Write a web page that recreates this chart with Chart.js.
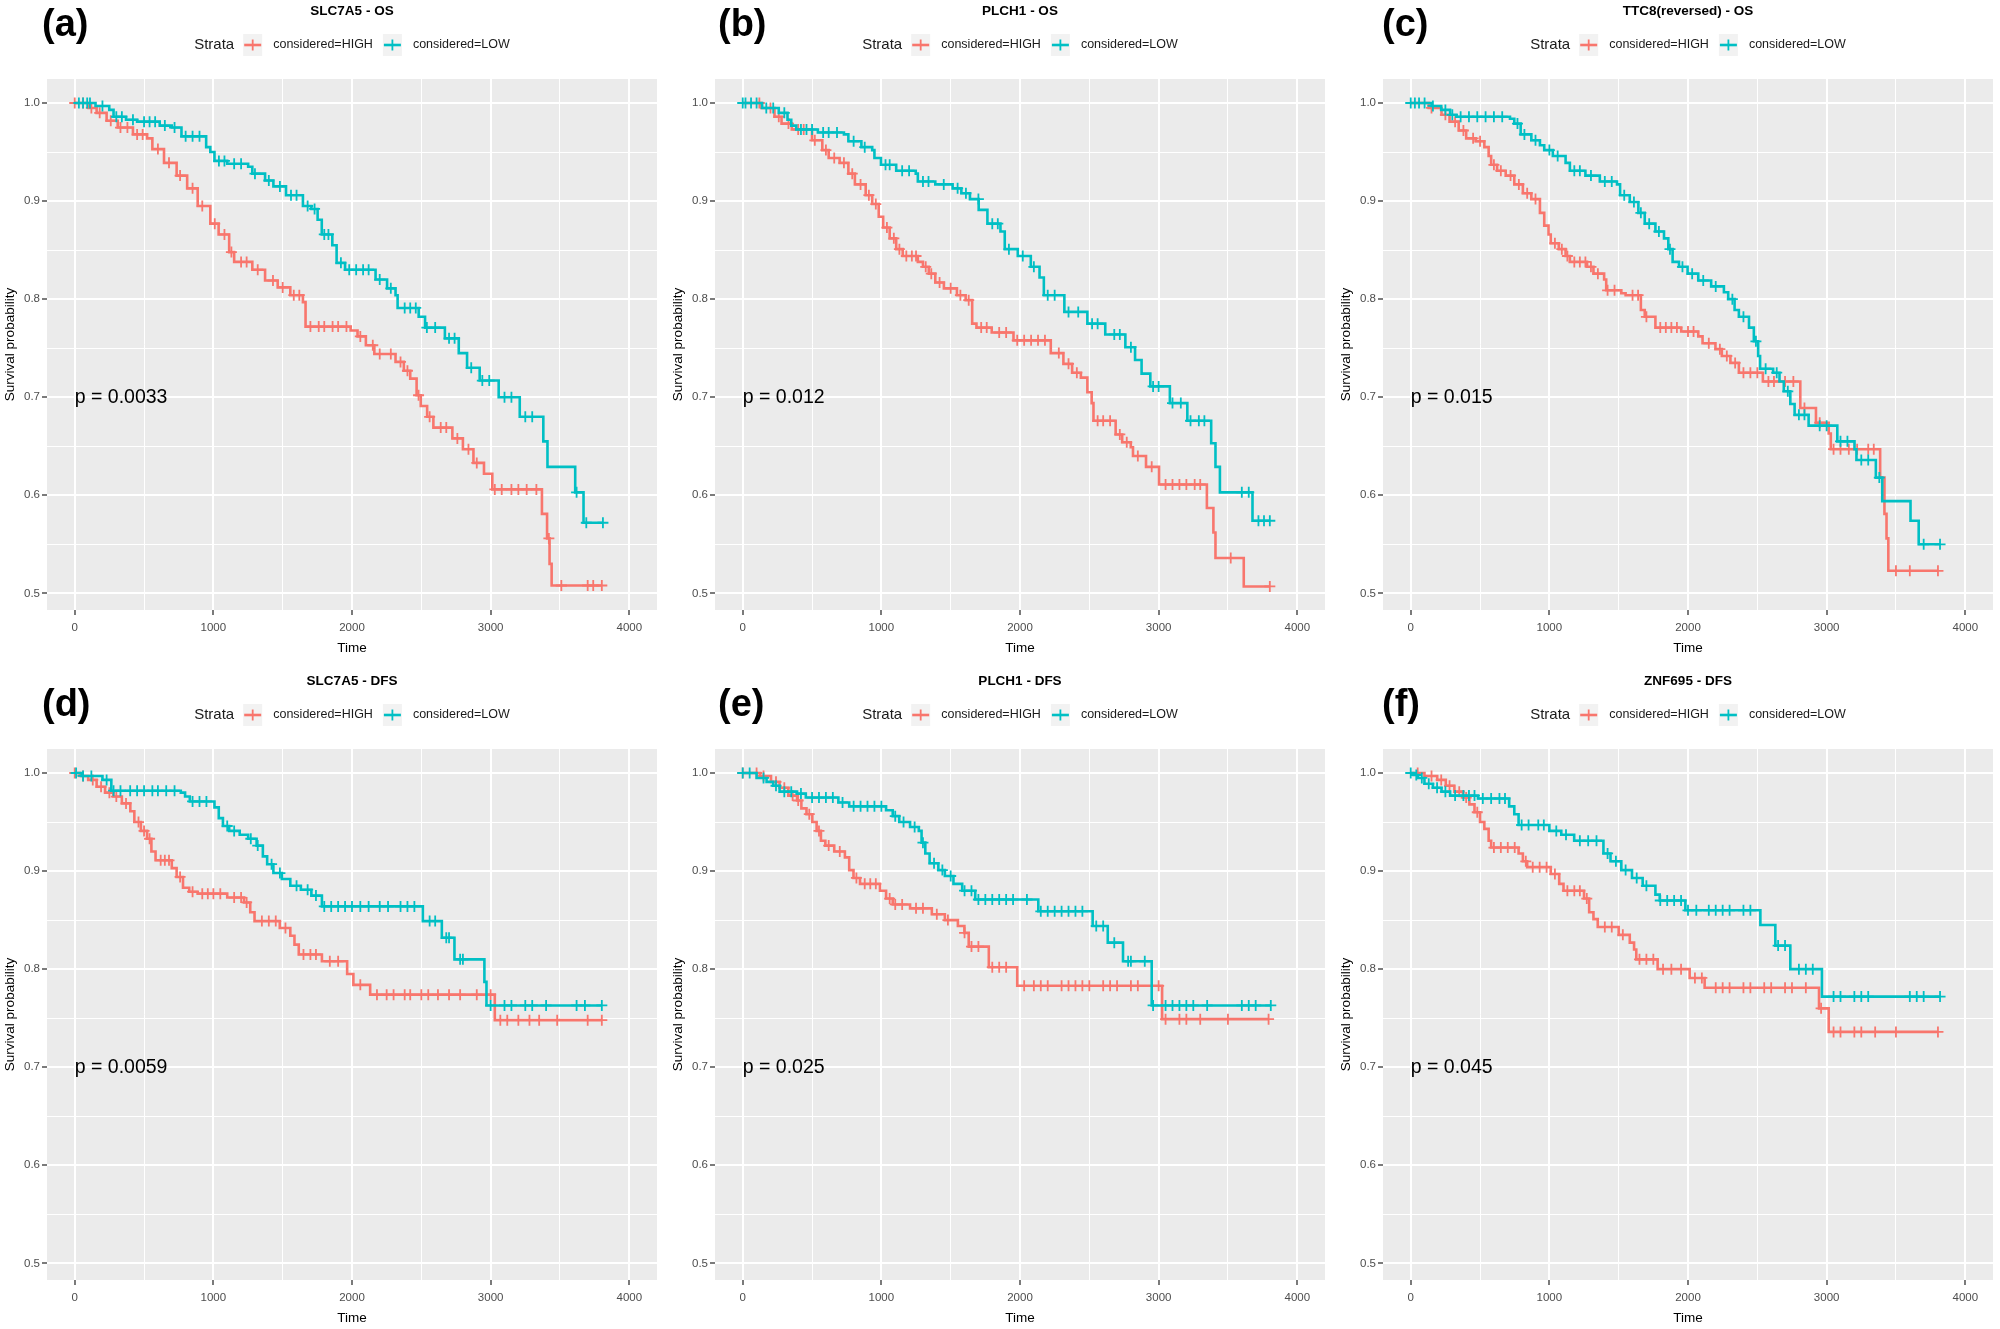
<!DOCTYPE html>
<html>
<head>
<meta charset="utf-8">
<script src="https://cdn.jsdelivr.net/npm/chart.js@4.4.1/dist/chart.umd.min.js"></script>
<style>
  body { margin: 0; background: #ffffff; }
  #wrap { position: relative; width: 2000px; height: 1329px; overflow: hidden; background: #ffffff; }
  #wrap canvas { position: absolute; }
</style>
</head>
<body>
<div id="wrap"></div>
<script>
// axis ticks (major ones get labels, the others are ggplot minor grid lines)
var xTickVals = [0, 500, 1000, 1500, 2000, 2500, 3000, 3500, 4000];
var yTickVals = [0.5, 0.55, 0.6, 0.65, 0.7, 0.75, 0.8, 0.85, 0.9, 0.95, 1.0];
var groups = ["considered=HIGH", "considered=LOW"];

// (a) SLC7A5 - OS
var aHighT = [0, 100, 158, 230, 310, 420, 522, 560, 644, 735, 811, 887, 978, 1038, 1114, 1150, 1281, 1373, 1464, 1555, 1646, 1665, 1990, 2040, 2100, 2161, 2314, 2374, 2420, 2466, 2496, 2542, 2587, 2724, 2800, 2876, 2952, 3012, 3370, 3407, 3425, 3440, 3802];
var aHighS = [1, 0.995, 0.99, 0.982, 0.975, 0.968, 0.964, 0.953, 0.939, 0.926, 0.913, 0.895, 0.877, 0.866, 0.848, 0.838, 0.830, 0.819, 0.812, 0.804, 0.797, 0.772, 0.768, 0.762, 0.753, 0.744, 0.736, 0.727, 0.719, 0.702, 0.691, 0.680, 0.669, 0.658, 0.647, 0.633, 0.622, 0.606, 0.581, 0.556, 0.530, 0.508, 0.508];
var aLowT = [0, 150, 249, 280, 370, 450, 613, 700, 770, 948, 978, 1008, 1100, 1251, 1281, 1373, 1433, 1524, 1646, 1707, 1752, 1782, 1858, 1889, 1950, 2170, 2253, 2314, 2329, 2481, 2527, 2670, 2770, 2830, 2921, 3058, 3210, 3380, 3410, 3610, 3670, 3810];
var aLowS = [1, 0.997, 0.993, 0.986, 0.983, 0.981, 0.977, 0.975, 0.966, 0.955, 0.95, 0.941, 0.938, 0.935, 0.928, 0.921, 0.915, 0.906, 0.895, 0.892, 0.881, 0.866, 0.855, 0.837, 0.830, 0.820, 0.811, 0.804, 0.791, 0.782, 0.771, 0.760, 0.745, 0.730, 0.717, 0.700, 0.680, 0.655, 0.629, 0.603, 0.572, 0.572];
var aHighCens = [0, 60, 120, 180, 260, 330, 380, 450, 490, 600, 680, 760, 850, 920, 1010, 1080, 1130, 1200, 1240, 1320, 1430, 1500, 1580, 1620, 1700, 1760, 1800, 1860, 1900, 1960, 2060, 2150, 2200, 2280, 2350, 2400, 2480, 2560, 2640, 2680, 2760, 2840, 2900, 3030, 3080, 3150, 3200, 3260, 3330, 3420, 3510, 3700, 3740, 3802];
var aLowCens = [30, 60, 90, 110, 200, 300, 340, 420, 500, 540, 580, 650, 720, 800, 850, 900, 1040, 1080, 1150, 1200, 1300, 1400, 1480, 1560, 1600, 1680, 1730, 1800, 1830, 1920, 1980, 2030, 2080, 2120, 2200, 2280, 2380, 2420, 2460, 2540, 2600, 2700, 2740, 2860, 2940, 2990, 3100, 3150, 3250, 3300, 3620, 3690, 3810];

// (b) PLCH1 - OS
var bHighT = [0, 135, 229, 280, 354, 500, 574, 620, 699, 762, 809, 887, 934, 981, 1013, 1060, 1107, 1154, 1263, 1300, 1342, 1389, 1451, 1545, 1608, 1655, 1686, 1796, 1953, 2222, 2313, 2376, 2439, 2486, 2517, 2530, 2690, 2737, 2799, 2815, 2909, 3003, 3348, 3395, 3410, 3614, 3802];
var bHighS = [1, 0.995, 0.986, 0.979, 0.973, 0.962, 0.952, 0.944, 0.939, 0.928, 0.917, 0.906, 0.897, 0.884, 0.873, 0.862, 0.851, 0.844, 0.838, 0.833, 0.826, 0.817, 0.811, 0.804, 0.799, 0.775, 0.771, 0.766, 0.758, 0.745, 0.734, 0.725, 0.720, 0.705, 0.694, 0.676, 0.662, 0.654, 0.649, 0.640, 0.629, 0.611, 0.587, 0.562, 0.536, 0.507, 0.507];
var bLowT = [0, 140, 260, 323, 350, 386, 542, 730, 762, 856, 934, 950, 997, 1107, 1248, 1263, 1389, 1514, 1577, 1639, 1702, 1765, 1859, 1890, 1984, 2078, 2141, 2172, 2320, 2486, 2615, 2760, 2830, 2877, 2940, 3081, 3207, 3379, 3410, 3442, 3677, 3802];
var bLowS = [1, 0.995, 0.99, 0.983, 0.977, 0.973, 0.970, 0.968, 0.961, 0.955, 0.952, 0.944, 0.937, 0.931, 0.928, 0.920, 0.917, 0.913, 0.908, 0.902, 0.891, 0.877, 0.869, 0.851, 0.844, 0.833, 0.822, 0.804, 0.787, 0.775, 0.764, 0.751, 0.738, 0.724, 0.711, 0.694, 0.676, 0.653, 0.629, 0.603, 0.574, 0.574];
var bHighCens = [120, 200, 260, 330, 400, 440, 520, 600, 660, 730, 790, 850, 910, 960, 1040, 1090, 1130, 1180, 1220, 1250, 1320, 1360, 1420, 1500, 1570, 1630, 1720, 1760, 1850, 1900, 1980, 2030, 2080, 2130, 2180, 2280, 2350, 2410, 2560, 2600, 2650, 2720, 2770, 2850, 2950, 3050, 3100, 3150, 3200, 3260, 3300, 3520, 3802];
var bLowCens = [0, 20, 60, 100, 170, 220, 300, 420, 460, 500, 580, 620, 680, 800, 880, 1030, 1060, 1150, 1200, 1300, 1340, 1450, 1550, 1610, 1700, 1800, 1840, 1920, 2020, 2100, 2200, 2250, 2350, 2420, 2520, 2560, 2680, 2720, 2800, 2960, 3000, 3100, 3160, 3230, 3290, 3330, 3600, 3650, 3720, 3760, 3802];

// (c) TTC8(reversed) - OS
var cHighT = [0, 130, 222, 280, 346, 400, 469, 531, 562, 580, 623, 685, 747, 809, 870, 932, 963, 994, 1010, 1068, 1117, 1148, 1272, 1318, 1395, 1410, 1519, 1550, 1660, 1688, 1765, 1951, 2074, 2105, 2198, 2244, 2306, 2367, 2540, 2810, 2923, 3015, 3030, 3386, 3417, 3432, 3445, 3803];
var cHighS = [1, 0.995, 0.988, 0.981, 0.972, 0.964, 0.961, 0.955, 0.946, 0.937, 0.931, 0.926, 0.917, 0.908, 0.902, 0.888, 0.875, 0.866, 0.857, 0.851, 0.844, 0.838, 0.833, 0.826, 0.820, 0.809, 0.806, 0.804, 0.789, 0.782, 0.771, 0.767, 0.762, 0.755, 0.749, 0.742, 0.735, 0.725, 0.716, 0.689, 0.674, 0.663, 0.647, 0.618, 0.581, 0.556, 0.523, 0.523];
var cLowT = [0, 150, 220, 284, 330, 716, 747, 793, 870, 932, 963, 1025, 1117, 1148, 1260, 1364, 1488, 1510, 1580, 1642, 1688, 1765, 1827, 1858, 1889, 1935, 1997, 2074, 2167, 2259, 2290, 2336, 2367, 2440, 2475, 2506, 2520, 2614, 2660, 2691, 2738, 2769, 2870, 3077, 3201, 3215, 3355, 3401, 3605, 3664, 3818];
var cLowS = [1, 0.997, 0.993, 0.988, 0.986, 0.984, 0.979, 0.968, 0.962, 0.957, 0.952, 0.946, 0.939, 0.931, 0.926, 0.920, 0.917, 0.906, 0.899, 0.888, 0.877, 0.869, 0.862, 0.851, 0.838, 0.833, 0.826, 0.819, 0.813, 0.807, 0.800, 0.789, 0.782, 0.771, 0.757, 0.742, 0.729, 0.725, 0.716, 0.706, 0.693, 0.682, 0.671, 0.655, 0.647, 0.636, 0.618, 0.594, 0.574, 0.550, 0.550];
var cHighCens = [150, 250, 320, 380, 450, 500, 600, 650, 720, 780, 840, 900, 1040, 1090, 1130, 1180, 1220, 1260, 1300, 1350, 1420, 1470, 1600, 1640, 1700, 1800, 1840, 1880, 1920, 2000, 2040, 2150, 2230, 2280, 2340, 2400, 2450, 2500, 2580, 2620, 2700, 2760, 2840, 2950, 3050, 3100, 3160, 3220, 3300, 3340, 3500, 3600, 3803];
var cLowCens = [0, 30, 60, 100, 160, 250, 300, 360, 420, 480, 540, 600, 660, 770, 820, 900, 1000, 1060, 1180, 1220, 1300, 1400, 1450, 1540, 1610, 1660, 1720, 1790, 1870, 1960, 2030, 2110, 2200, 2320, 2400, 2490, 2560, 2640, 2720, 2800, 2840, 2950, 3000, 3100, 3150, 3250, 3300, 3380, 3700, 3818];

// (d) SLC7A5 - DFS
var dHighT = [0, 36, 97, 158, 219, 279, 340, 401, 430, 477, 522, 553, 583, 700, 735, 781, 826, 887, 1100, 1221, 1266, 1297, 1479, 1555, 1585, 1616, 1783, 1965, 2010, 2131, 3030, 3802];
var dHighS = [1, 0.997, 0.993, 0.986, 0.980, 0.976, 0.969, 0.961, 0.950, 0.941, 0.933, 0.920, 0.911, 0.903, 0.894, 0.883, 0.879, 0.877, 0.873, 0.868, 0.858, 0.849, 0.842, 0.834, 0.825, 0.815, 0.808, 0.795, 0.784, 0.774, 0.748, 0.748];
var dLowT = [0, 50, 200, 264, 765, 796, 830, 1008, 1039, 1069, 1114, 1190, 1251, 1312, 1357, 1388, 1433, 1494, 1555, 1631, 1707, 1783, 2511, 2648, 2739, 2955, 2970, 3802];
var dLowS = [1, 0.997, 0.993, 0.982, 0.980, 0.976, 0.971, 0.965, 0.954, 0.946, 0.941, 0.937, 0.933, 0.926, 0.915, 0.907, 0.898, 0.892, 0.885, 0.881, 0.875, 0.864, 0.849, 0.832, 0.810, 0.787, 0.763, 0.763];
var dHighCens = [0, 60, 130, 190, 250, 300, 370, 460, 500, 540, 620, 650, 680, 760, 850, 920, 960, 1000, 1050, 1150, 1200, 1240, 1350, 1400, 1450, 1520, 1650, 1700, 1740, 1840, 1900, 2060, 2180, 2250, 2300, 2380, 2420, 2500, 2550, 2620, 2700, 2780, 2900, 3000, 3070, 3120, 3200, 3280, 3350, 3480, 3700, 3802];
var dLowCens = [10, 60, 120, 230, 280, 330, 400, 450, 500, 560, 600, 660, 720, 850, 900, 950, 1100, 1150, 1270, 1320, 1420, 1480, 1600, 1680, 1740, 1800, 1850, 1900, 1950, 2000, 2060, 2120, 2200, 2260, 2350, 2400, 2450, 2560, 2600, 2680, 2700, 2780, 2800, 3000, 3100, 3150, 3250, 3300, 3400, 3620, 3680, 3802];

// (e) PLCH1 - DFS
var eHighT = [0, 125, 204, 266, 329, 392, 423, 460, 502, 533, 564, 596, 660, 737, 768, 799, 846, 990, 1034, 1082, 1207, 1364, 1458, 1552, 1599, 1630, 1775, 1980, 3025, 3793];
var eHighS = [1, 0.997, 0.991, 0.985, 0.977, 0.972, 0.964, 0.958, 0.950, 0.941, 0.931, 0.926, 0.920, 0.914, 0.901, 0.893, 0.887, 0.880, 0.872, 0.866, 0.862, 0.856, 0.850, 0.844, 0.837, 0.823, 0.802, 0.783, 0.749, 0.749];
var eLowT = [0, 100, 172, 220, 266, 392, 455, 690, 768, 1034, 1082, 1129, 1207, 1270, 1290, 1317, 1348, 1411, 1458, 1520, 1583, 1677, 2132, 2524, 2633, 2743, 2950, 3809];
var eLowS = [1, 0.995, 0.991, 0.987, 0.981, 0.979, 0.975, 0.970, 0.966, 0.962, 0.956, 0.950, 0.945, 0.941, 0.929, 0.918, 0.908, 0.901, 0.895, 0.887, 0.880, 0.871, 0.859, 0.844, 0.827, 0.808, 0.763, 0.763];
var eHighCens = [0, 100, 150, 240, 300, 360, 400, 480, 550, 620, 700, 820, 880, 920, 960, 1060, 1100, 1150, 1250, 1300, 1400, 1480, 1600, 1650, 1700, 1800, 1850, 1900, 2030, 2100, 2150, 2200, 2300, 2350, 2400, 2450, 2500, 2600, 2650, 2700, 2800, 2850, 3000, 3050, 3150, 3200, 3300, 3500, 3793];
var eLowCens = [0, 50, 150, 240, 300, 350, 420, 500, 550, 600, 650, 720, 800, 850, 900, 950, 1000, 1100, 1160, 1240, 1300, 1380, 1440, 1500, 1600, 1650, 1700, 1750, 1800, 1850, 1900, 1950, 2050, 2150, 2200, 2250, 2300, 2350, 2400, 2450, 2550, 2600, 2680, 2780, 2800, 2900, 2960, 3050, 3100, 3150, 3200, 3250, 3350, 3600, 3650, 3700, 3809];

// (f) ZNF695 - DFS
var fHighT = [0, 99, 191, 253, 315, 377, 423, 460, 500, 531, 562, 580, 778, 809, 840, 1010, 1071, 1102, 1250, 1287, 1318, 1349, 1500, 1580, 1611, 1627, 1781, 2012, 2120, 2945, 3015, 3803];
var fHighS = [1, 0.997, 0.993, 0.987, 0.981, 0.975, 0.968, 0.960, 0.950, 0.943, 0.931, 0.924, 0.918, 0.910, 0.904, 0.897, 0.887, 0.880, 0.872, 0.858, 0.851, 0.843, 0.835, 0.827, 0.820, 0.810, 0.800, 0.791, 0.781, 0.760, 0.736, 0.736];
var fLowT = [0, 20, 52, 99, 160, 222, 284, 485, 710, 747, 778, 1000, 1086, 1179, 1390, 1441, 1519, 1596, 1673, 1765, 1796, 1981, 2522, 2630, 2738, 2966, 3818];
var fLowS = [1, 0.998, 0.995, 0.989, 0.985, 0.981, 0.977, 0.974, 0.966, 0.958, 0.947, 0.941, 0.937, 0.931, 0.918, 0.910, 0.901, 0.893, 0.885, 0.876, 0.870, 0.860, 0.845, 0.824, 0.800, 0.772, 0.772];
var fHighCens = [50, 150, 220, 280, 350, 400, 480, 600, 650, 700, 750, 830, 880, 930, 980, 1040, 1130, 1180, 1220, 1270, 1400, 1450, 1530, 1650, 1700, 1750, 1820, 1880, 1950, 2050, 2100, 2200, 2250, 2300, 2400, 2450, 2550, 2600, 2700, 2750, 2850, 2960, 3050, 3100, 3200, 3250, 3350, 3500, 3803];
var fLowCens = [0, 40, 80, 130, 190, 250, 320, 380, 420, 460, 520, 580, 640, 680, 800, 850, 920, 960, 1050, 1120, 1220, 1280, 1340, 1420, 1480, 1550, 1630, 1700, 1800, 1850, 1900, 1950, 2000, 2060, 2150, 2200, 2250, 2300, 2400, 2450, 2650, 2700, 2800, 2850, 2900, 3050, 3100, 3200, 3250, 3300, 3600, 3650, 3700, 3818];

var panels = [
    { letter: "(a)", title: "SLC7A5 - OS", pval: "p = 0.0033", hT: aHighT, hS: aHighS, lT: aLowT, lS: aLowS, hC: aHighCens, lC: aLowCens },
    { letter: "(b)", title: "PLCH1 - OS", pval: "p = 0.012", hT: bHighT, hS: bHighS, lT: bLowT, lS: bLowS, hC: bHighCens, lC: bLowCens },
    { letter: "(c)", title: "TTC8(reversed) - OS", pval: "p = 0.015", hT: cHighT, hS: cHighS, lT: cLowT, lS: cLowS, hC: cHighCens, lC: cLowCens },
    { letter: "(d)", title: "SLC7A5 - DFS", pval: "p = 0.0059", hT: dHighT, hS: dHighS, lT: dLowT, lS: dLowS, hC: dHighCens, lC: dLowCens },
    { letter: "(e)", title: "PLCH1 - DFS", pval: "p = 0.025", hT: eHighT, hS: eHighS, lT: eLowT, lS: eLowS, hC: eHighCens, lC: eLowCens },
    { letter: "(f)", title: "ZNF695 - DFS", pval: "p = 0.045", hT: fHighT, hS: fHighS, lT: fLowT, lS: fLowS, hC: fHighCens, lC: fLowCens }
];

var RED = "#F8766D";
var TEAL = "#00BFC4";
var FAMILY = "'Liberation Sans', Arial, sans-serif";
var W = 667, H = 668;

Chart.defaults.font.family = FAMILY;

function steps(T, S) {
    return T.map(function (t, i) { return { x: t, y: S[i] }; });
}

// censor marks sit on the curve: value of the last step at or before t
function censored(T, S, times) {
    return times.map(function (t) {
        var v = S[0];
        for (var i = 0; i < T.length && T[i] <= t; i++) v = S[i];
        return { x: t, y: v };
    });
}

function isMajorX(v) { return v % 1000 === 0; }
function isMajorY(v) { return Math.round(v * 100) % 10 === 0; }

function drawCross(ctx, x, y, r, color) {
    ctx.strokeStyle = color;
    ctx.lineWidth = 1.8;
    ctx.beginPath();
    ctx.moveTo(x - r, y); ctx.lineTo(x + r, y);
    ctx.moveTo(x, y - r); ctx.lineTo(x, y + r);
    ctx.stroke();
}

var kmDecor = {
    id: "km",
    beforeDraw: function (chart) {
        var a = chart.chartArea, ctx = chart.ctx;
        ctx.save();
        ctx.fillStyle = "#EBEBEB";
        ctx.fillRect(a.left, a.top, a.right - a.left, a.bottom - a.top);
        ctx.restore();
    },
    afterDraw: function (chart, args, opts) {
        var a = chart.chartArea, ctx = chart.ctx;
        var cx = (a.left + a.right) / 2;
        ctx.save();

        // panel letter
        ctx.fillStyle = "#000";
        ctx.font = "bold 38px " + FAMILY;
        ctx.textAlign = "left";
        ctx.textBaseline = "middle";
        ctx.fillText(opts.letter, opts.letterX, opts.letterY);

        // title
        ctx.font = "bold 13.5px " + FAMILY;
        ctx.textAlign = "center";
        ctx.fillText(opts.title, cx, 11);

        // legend: "Strata" + two keys
        var ds = chart.data.datasets;
        ctx.font = "15px " + FAMILY;
        var wS = ctx.measureText("Strata").width;
        ctx.font = "12.5px " + FAMILY;
        var w1 = ctx.measureText(ds[0].label).width;
        var w2 = ctx.measureText(ds[1].label).width;
        var kw = 19, kh = 22, ly = 45;
        var total = wS + 9 + kw + 11 + w1 + 10 + kw + 11 + w2;
        var x = cx - total / 2;
        ctx.textAlign = "left";
        ctx.fillStyle = "#1A1A1A";
        ctx.font = "15px " + FAMILY;
        ctx.fillText("Strata", x, ly);
        x += wS + 9;
        [0, 1].forEach(function (k) {
            ctx.fillStyle = "#F2F2F2";
            ctx.fillRect(x, ly - kh / 2, kw, kh);
            ctx.strokeStyle = ds[k].borderColor;
            ctx.lineWidth = 2.6;
            ctx.beginPath();
            ctx.moveTo(x + 1, ly); ctx.lineTo(x + kw - 1, ly);
            ctx.stroke();
            drawCross(ctx, x + kw / 2, ly, 5.5, ds[k].borderColor);
            x += kw + 11;
            ctx.fillStyle = "#1A1A1A";
            ctx.font = "12.5px " + FAMILY;
            ctx.fillText(ds[k].label, x, ly);
            x += (k === 0 ? w1 : w2) + 10;
        });

        // p-value
        var xs = chart.scales.x, ys = chart.scales.y;
        ctx.fillStyle = "#000";
        ctx.font = "19.5px " + FAMILY;
        ctx.textAlign = "left";
        ctx.fillText(opts.pval, xs.getPixelForValue(0), ys.getPixelForValue(0.7));
        ctx.restore();
    }
};

var wrap = document.getElementById("wrap");
var letterXs = [42, 50, 46];

panels.forEach(function (p, i) {
    var col = i % 3, row = Math.floor(i / 3);
    var canvas = document.createElement("canvas");
    canvas.width = W;
    canvas.height = H;
    canvas.style.left = (col * 668) + "px";
    canvas.style.top = (row * 670) + "px";
    wrap.appendChild(canvas);

    new Chart(canvas.getContext("2d"), {
        type: "scatter",
        data: {
            datasets: [
                { label: groups[0], data: steps(p.hT, p.hS), showLine: true, stepped: true,
                  borderColor: RED, borderWidth: 2.6, pointRadius: 0, order: 3 },
                { label: groups[1], data: steps(p.lT, p.lS), showLine: true, stepped: true,
                  borderColor: TEAL, borderWidth: 2.6, pointRadius: 0, order: 1 },
                { label: groups[0] + " censored", data: censored(p.hT, p.hS, p.hC), showLine: false,
                  pointStyle: "cross", pointRadius: 5.5, borderColor: RED, borderWidth: 1.8, order: 2 },
                { label: groups[1] + " censored", data: censored(p.lT, p.lS, p.lC), showLine: false,
                  pointStyle: "cross", pointRadius: 5.5, borderColor: TEAL, borderWidth: 1.8, order: 0 }
            ]
        },
        options: {
            responsive: false,
            animation: false,
            layout: { padding: { top: 79, right: 10, left: 0, bottom: 0 } },
            plugins: {
                legend: { display: false },
                tooltip: { enabled: false },
                km: { letter: p.letter, title: p.title, pval: p.pval, letterX: letterXs[col], letterY: row === 0 ? 26 : 36 }
            },
            scales: {
                x: {
                    type: "linear",
                    min: -200,
                    max: 4200,
                    afterBuildTicks: function (s) { s.ticks = xTickVals.map(function (v) { return { value: v }; }); },
                    afterFit: function (s) { s.height = 58; },
                    border: { display: false },
                    grid: {
                        color: "#FFFFFF",
                        lineWidth: function (c) { return c.tick && isMajorX(c.tick.value) ? 2 : 1; },
                        tickLength: 5,
                        tickWidth: 1.3,
                        tickColor: function (c) { return c.tick && isMajorX(c.tick.value) ? "#333333" : "rgba(0,0,0,0)"; }
                    },
                    ticks: {
                        autoSkip: false, maxRotation: 0, padding: 6,
                        color: "#4D4D4D", font: { size: 11.5 },
                        callback: function (v) { return isMajorX(v) ? String(v) : ""; }
                    },
                    title: { display: true, text: "Time", color: "#000", font: { size: 13.5 }, padding: { top: 0, bottom: 12 } }
                },
                y: {
                    type: "linear",
                    min: 0.483,
                    max: 1.0245,
                    afterBuildTicks: function (s) { s.ticks = yTickVals.map(function (v) { return { value: v }; }); },
                    afterFit: function (s) { s.width = 47; },
                    border: { display: false },
                    grid: {
                        color: "#FFFFFF",
                        lineWidth: function (c) { return c.tick && isMajorY(c.tick.value) ? 2 : 1; },
                        tickLength: 5,
                        tickWidth: 1.3,
                        tickColor: function (c) { return c.tick && isMajorY(c.tick.value) ? "#333333" : "rgba(0,0,0,0)"; }
                    },
                    ticks: {
                        autoSkip: false, padding: 2,
                        color: "#4D4D4D", font: { size: 11.5 },
                        callback: function (v) { return isMajorY(v) ? v.toFixed(1) : ""; }
                    },
                    title: { display: true, text: "Survival probability", color: "#000", font: { size: 13.5 }, padding: { top: 2, bottom: 0 } }
                }
            }
        },
        plugins: [kmDecor]
    });
});
</script>
</body>
</html>
